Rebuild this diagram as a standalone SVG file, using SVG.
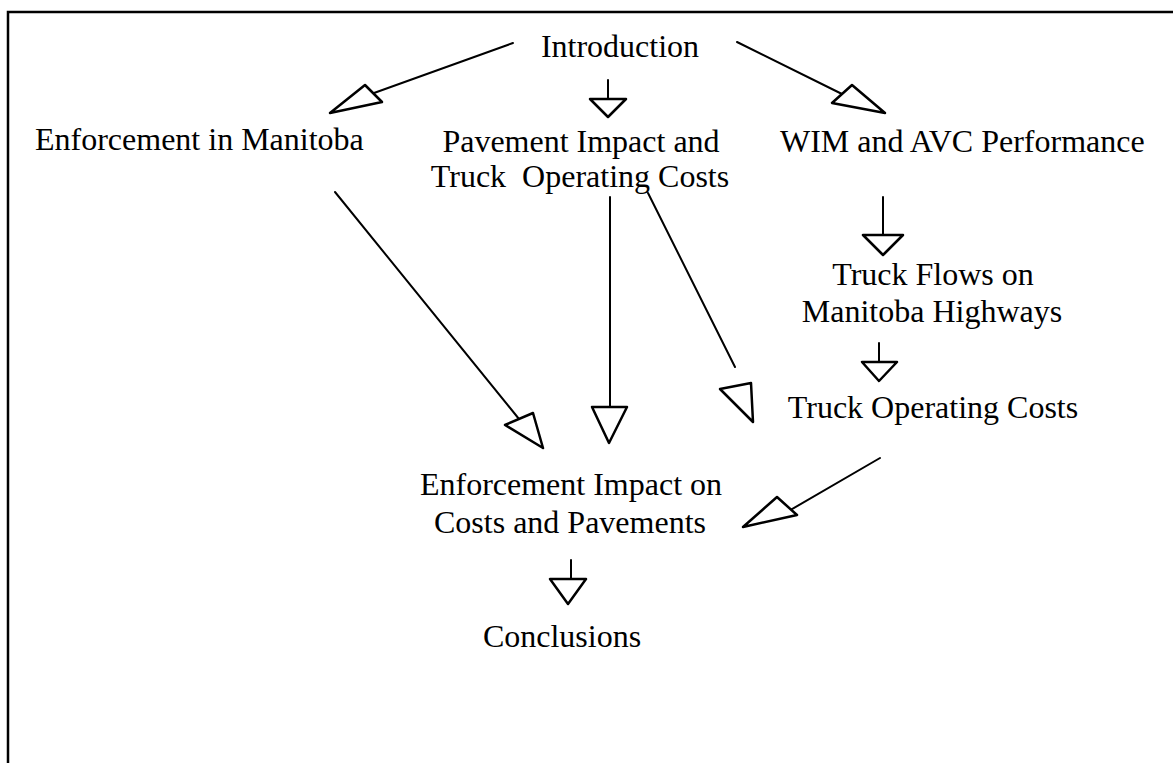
<svg xmlns="http://www.w3.org/2000/svg" width="1173" height="763" viewBox="0 0 1173 763">
<style>
  .t { font-family: "Liberation Serif", "Times New Roman", serif; font-size: 32px; fill: #000; }
  .m { text-anchor: middle; }
  .ln { stroke: #000; stroke-width: 2; fill: none; stroke-linecap: round; }
  .ah { stroke: #000; stroke-width: 2.5; fill: #fff; stroke-linejoin: round; }
  .frame { stroke: #000; stroke-width: 2.5; fill: none; }
</style>
<rect x="0" y="0" width="1173" height="763" fill="#fff"/>
<path class="frame" d="M8,763 V12 H1173"/>

<g id="connectors">
  <line class="ln" x1="513" y1="43" x2="374" y2="93"/>
  <polygon class="ah" points="330,113 365,85 382,102"/>
  <line class="ln" x1="608" y1="80" x2="608" y2="99"/>
  <polygon class="ah" points="590,99 626,99 608,117"/>
  <line class="ln" x1="737" y1="42" x2="842" y2="94"/>
  <polygon class="ah" points="885,113 852,85 832,103"/>
  <line class="ln" x1="335" y1="192" x2="519" y2="419"/>
  <polygon class="ah" points="505,425 533,413 543,448"/>
  <line class="ln" x1="610" y1="197" x2="610" y2="407"/>
  <polygon class="ah" points="592,407 627,407 609,443"/>
  <line class="ln" x1="648" y1="193" x2="735" y2="367"/>
  <polygon class="ah" points="720,389 751,383 753,422"/>
  <line class="ln" x1="883" y1="197" x2="883" y2="235"/>
  <polygon class="ah" points="863,235 903,235 883,255"/>
  <line class="ln" x1="879" y1="343" x2="879" y2="362"/>
  <polygon class="ah" points="862,362 897,362 879,381"/>
  <line class="ln" x1="880" y1="458" x2="787" y2="512"/>
  <polygon class="ah" points="777,497 797,515 743,527"/>
  <line class="ln" x1="571" y1="560" x2="571" y2="579"/>
  <polygon class="ah" points="550,579 586,579 568,604"/>
</g>

<g id="introduction"><text class="t m" x="620" y="57">Introduction</text></g>
<g id="enforcement-manitoba"><text class="t" x="35" y="150">Enforcement in Manitoba</text></g>
<g id="pavement-impact">
  <text class="t m" x="581" y="152">Pavement Impact and</text>
  <text class="t m" x="580" y="187" xml:space="preserve">Truck  Operating Costs</text>
</g>
<g id="wim-avc"><text class="t" x="780" y="152">WIM and AVC Performance</text></g>
<g id="truck-flows">
  <text class="t m" x="933" y="285">Truck Flows on</text>
  <text class="t m" x="932" y="322">Manitoba Highways</text>
</g>
<g id="truck-operating-costs"><text class="t m" x="933" y="418">Truck Operating Costs</text></g>
<g id="enforcement-impact">
  <text class="t m" x="571" y="495">Enforcement Impact on</text>
  <text class="t m" x="570" y="533">Costs and Pavements</text>
</g>
<g id="conclusions"><text class="t m" x="562" y="647">Conclusions</text></g>
</svg>
